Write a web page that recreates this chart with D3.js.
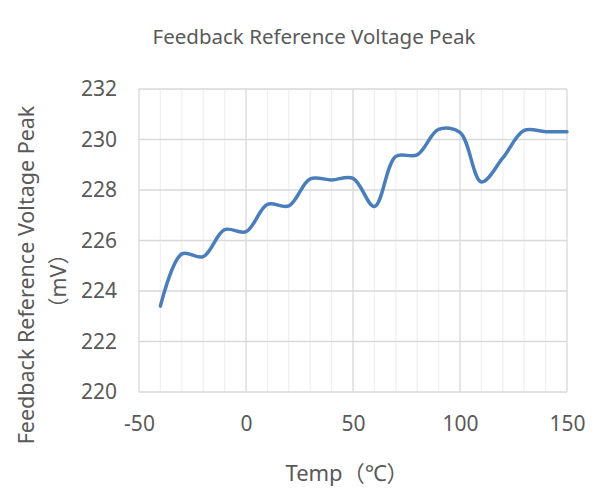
<!DOCTYPE html>
<html>
<head>
<meta charset="utf-8">
<script src="https://cdn.jsdelivr.net/npm/d3@7"></script>
<style>
  body { margin: 0; background: #fff; }
  svg text { font-family: "Noto Sans", "Open Sans", "Noto Sans CJK SC", sans-serif; fill: #595959; }
</style>
</head>
<body>
<div id="chart"></div>
<script>
const temps = [-40, -30, -20, -10, 0, 10, 20, 30, 40, 50, 60, 70, 80, 90, 100, 110, 120, 130, 140, 150];
const peakMv = [223.4, 225.47, 225.36, 226.43, 226.35, 227.43, 227.37, 228.44, 228.4, 228.46, 227.35,
                229.33, 229.39, 230.4, 230.28, 228.32, 229.27, 230.36, 230.31, 230.31];
const xTicks = [-50, 0, 50, 100, 150];
const yTicks = [220, 222, 224, 226, 228, 230, 232];

const W = 598, H = 502;
const M = {left: 139, right: 31, top: 89, bottom: 110};

const svg = d3.select('#chart').append('svg')
  .attr('width', W)
  .attr('height', H);

const x = d3.scaleLinear().domain([-50, 150]).range([M.left, W - M.right]);
const y = d3.scaleLinear().domain([220, 232]).range([H - M.bottom, M.top]);

// minor vertical grid every 10
const grid = svg.append('g');
grid.selectAll('line.minor')
  .data(d3.range(-40, 150, 10).filter(v => v % 50 !== 0))
  .enter().append('line')
  .attr('x1', d => x(d)).attr('x2', d => x(d))
  .attr('y1', y(220)).attr('y2', y(232))
  .attr('stroke', '#f0f0f0').attr('stroke-width', 1.3);

grid.selectAll('line.vmajor')
  .data(xTicks)
  .enter().append('line')
  .attr('x1', d => x(d)).attr('x2', d => x(d))
  .attr('y1', y(220)).attr('y2', y(232))
  .attr('stroke', '#d9d9d9').attr('stroke-width', 1.3);

grid.selectAll('line.hmajor')
  .data(yTicks)
  .enter().append('line')
  .attr('x1', x(-50)).attr('x2', x(150))
  .attr('y1', d => y(d)).attr('y2', d => y(d))
  .attr('stroke', '#d9d9d9').attr('stroke-width', 1.3);

// axes (labels only)
const xAxis = svg.append('g')
  .attr('transform', `translate(0,${y(220)})`)
  .call(d3.axisBottom(x).tickValues(xTicks).tickSize(0).tickPadding(24).tickFormat(d => String(d)));
const yAxis = svg.append('g')
  .attr('transform', `translate(${x(-50)},0)`)
  .call(d3.axisLeft(y).tickValues(yTicks).tickSize(0).tickPadding(22).tickFormat(d => String(d)));
[xAxis, yAxis].forEach(a => {
  a.select('.domain').remove();
  a.selectAll('text').style('font-size', '21px').attr('fill', '#595959');
});

const line = d3.line()
  .x((d, i) => x(temps[i]))
  .y(d => y(d))
  .curve(d3.curveCatmullRom.alpha(0.5));

svg.append('path')
  .datum(peakMv)
  .attr('d', line)
  .attr('fill', 'none')
  .attr('stroke', '#4a7ebb')
  .attr('stroke-width', 3.5)
  .attr('stroke-linecap', 'round');

// titles
svg.append('text')
  .attr('x', 314).attr('y', 44)
  .attr('text-anchor', 'middle')
  .style('font-size', '20.5px')
  .text('Feedback Reference Voltage Peak');

svg.append('text')
  .attr('x', 347).attr('y', 481)
  .attr('text-anchor', 'middle')
  .style('font-size', '22px')
  .text('Temp（℃）');

const yt = svg.append('text')
  .attr('transform', 'translate(0,275) rotate(-90)')
  .attr('text-anchor', 'middle')
  .style('font-size', '21.5px');
yt.append('tspan').attr('x', 0).attr('y', 34).text('Feedback Reference Voltage Peak');
yt.append('tspan').attr('x', -6).attr('y', 66).text('（mV）');
</script>
</body>
</html>
